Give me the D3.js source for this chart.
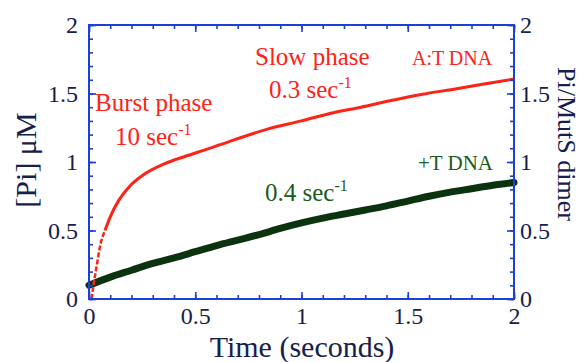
<!DOCTYPE html>
<html>
<head>
<meta charset="utf-8">
<script src="https://cdn.jsdelivr.net/npm/d3@7"></script>
<style>
  body { margin: 0; background: #fff; }
  svg text { font-family: "Liberation Serif", "DejaVu Serif", serif; }
</style>
</head>
<body>
<div id="chart"></div>
<script>
// A:T DNA trace (red)
const timeRed = [0.012, 0.02, 0.035, 0.05, 0.075, 0.1, 0.14, 0.19, 0.26, 0.36, 0.45, 0.55, 0.68, 0.84, 1.0, 1.15, 1.28, 1.41, 1.57, 1.73, 1.88, 2.0];
const piRed   = [0.0, 0.09, 0.23, 0.37, 0.50, 0.60, 0.72, 0.82, 0.91, 0.99, 1.04, 1.09, 1.16, 1.24, 1.30, 1.36, 1.40, 1.445, 1.495, 1.535, 1.575, 1.605];

// +T DNA trace (dark green)
const timeGreen = [0, 0.1, 0.2, 0.3, 0.4, 0.5, 0.6, 0.7, 0.8, 0.9, 1.0, 1.1, 1.2, 1.3, 1.4, 1.5, 1.6, 1.7, 1.8, 1.9, 2.0];
const piGreen   = [0.10, 0.16, 0.21, 0.26, 0.30, 0.345, 0.39, 0.43, 0.47, 0.515, 0.555, 0.59, 0.62, 0.65, 0.68, 0.715, 0.75, 0.78, 0.805, 0.83, 0.85];

const majorTicks = [0, 0.5, 1, 1.5, 2];
const minorTicks = [0, 0.1, 0.2, 0.3, 0.4, 0.5, 0.6, 0.7, 0.8, 0.9, 1, 1.1, 1.2, 1.3, 1.4, 1.5, 1.6, 1.7, 1.8, 1.9, 2];

const width = 582, height = 362;
const margin = { top: 25, right: 68, bottom: 63, left: 89 };
const w = width - margin.left - margin.right;
const h = height - margin.top - margin.bottom;

const axisBlue = "#1c3fd6";
const labelNavy = "#15204c";
const red = "#ff2216";
const green = "#0b3310";

const svg = d3.select("#chart").append("svg")
  .attr("width", width).attr("height", height);
const g = svg.append("g").attr("transform", `translate(${margin.left},${margin.top})`);

const x = d3.scaleLinear().domain([0, 2]).range([0, w]);
const y = d3.scaleLinear().domain([0, 2]).range([h, 0]);

// Curves
const line = d3.line().x(d => x(d[0])).y(d => y(d[1])).curve(d3.curveMonotoneX);
const greenPts = timeGreen.map((t, i) => [t, piGreen[i]]);
const redPts = timeRed.map((t, i) => [t, piRed[i]]);

g.append("path").datum(greenPts)
  .attr("fill", "none").attr("stroke", green)
  .attr("stroke-width", 7).attr("stroke-linecap", "round")
  .attr("d", line);

// early burst is sparse in the original - drawn dashed
g.append("path").datum(redPts.slice(0, 5))
  .attr("fill", "none").attr("stroke", red)
  .attr("stroke-width", 2.5).attr("stroke-dasharray", "5,2")
  .attr("d", line);
g.append("path").datum(redPts.slice(4))
  .attr("fill", "none").attr("stroke", red)
  .attr("stroke-width", 3)
  .attr("d", line);

// Axes (ticks pointing inward)
function styleAxis(sel) {
  sel.select(".domain").remove();
  sel.selectAll("line").attr("stroke", axisBlue).attr("stroke-width", 1.6);
  sel.selectAll("text").attr("fill", labelNavy).style("font-size", "24px");
}

g.append("g").attr("transform", `translate(0,${h})`)
  .call(d3.axisBottom(x).tickValues(minorTicks).tickSize(-4).tickFormat(""))
  .call(styleAxis);
g.append("g").attr("transform", `translate(0,${h})`)
  .call(d3.axisBottom(x).tickValues(majorTicks).tickSize(-7).tickPadding(8).tickFormat(d3.format("")))
  .call(styleAxis);
g.append("g")
  .call(d3.axisTop(x).tickValues(minorTicks).tickSize(-4).tickFormat(""))
  .call(styleAxis);
g.append("g")
  .call(d3.axisTop(x).tickValues(majorTicks).tickSize(-7).tickFormat(""))
  .call(styleAxis);

g.append("g")
  .call(d3.axisLeft(y).tickValues(minorTicks).tickSize(-4).tickFormat(""))
  .call(styleAxis);
g.append("g")
  .call(d3.axisLeft(y).tickValues(majorTicks).tickSize(-7).tickPadding(11).tickFormat(d3.format("")))
  .call(styleAxis);
g.append("g").attr("transform", `translate(${w},0)`)
  .call(d3.axisRight(y).tickValues(minorTicks).tickSize(-4).tickFormat(""))
  .call(styleAxis);
g.append("g").attr("transform", `translate(${w},0)`)
  .call(d3.axisRight(y).tickValues(majorTicks).tickSize(-7).tickPadding(6).tickFormat(d3.format("")))
  .call(styleAxis);

// frame
g.append("rect").attr("width", w).attr("height", h)
  .attr("fill", "none").attr("stroke", axisBlue).attr("stroke-width", 2);

// Axis titles
svg.append("text")
  .attr("x", 302).attr("y", 357)
  .attr("text-anchor", "middle").attr("fill", labelNavy)
  .style("font-size", "30px").text("Time (seconds)");

svg.append("text")
  .attr("transform", "translate(36,160) rotate(-90)")
  .attr("text-anchor", "middle").attr("fill", labelNavy)
  .style("font-size", "30px").text("[Pi] μM");

svg.append("text")
  .attr("transform", "translate(558,144) rotate(90)")
  .attr("text-anchor", "middle").attr("fill", labelNavy)
  .style("font-size", "26px").text("Pi/MutS dimer");

// Annotations
function rateLabel(xp, yp, value, color) {
  const t = svg.append("text").attr("x", xp).attr("y", yp)
    .attr("fill", color).style("font-size", "25px");
  t.append("tspan").text(value + " sec");
  t.append("tspan").attr("dy", -10).style("font-size", "16px").text("-1");
}

svg.append("text").attr("x", 95).attr("y", 111)
  .attr("fill", red).style("font-size", "25px").text("Burst phase");
rateLabel(115, 145, "10", red);

svg.append("text").attr("x", 255).attr("y", 65)
  .attr("fill", red).style("font-size", "25px").text("Slow phase");
rateLabel(269, 98, "0.3", red);

svg.append("text").attr("x", 412).attr("y", 65)
  .attr("fill", red).style("font-size", "20px").text("A:T DNA");

svg.append("text").attr("x", 418).attr("y", 170)
  .attr("fill", "#1a5a1a").style("font-size", "21px").text("+T DNA");
rateLabel(265, 201, "0.4", "#1a5a1a");
</script>
</body>
</html>
